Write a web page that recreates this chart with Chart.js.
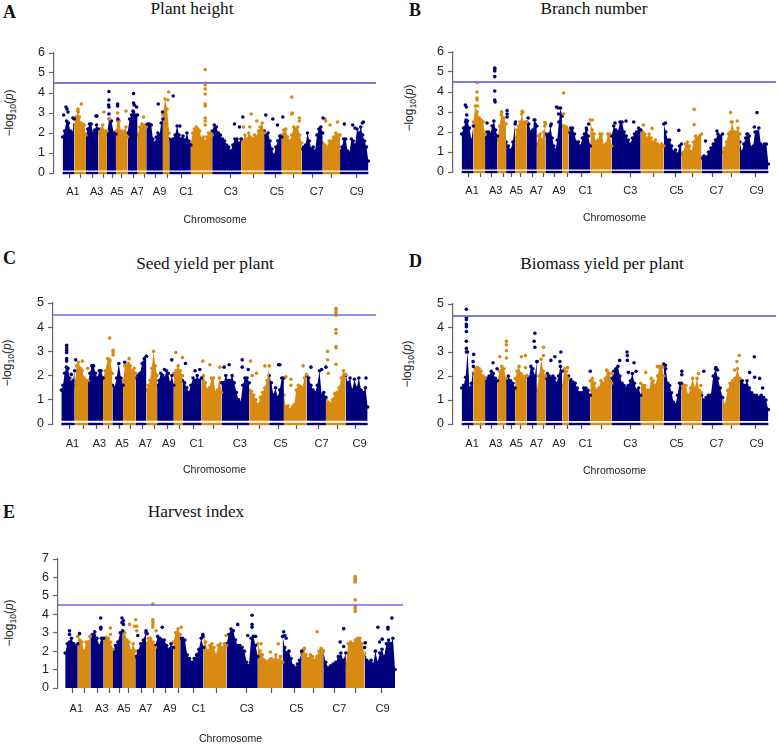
<!DOCTYPE html>
<html>
<head>
<meta charset="utf-8">
<title>Manhattan plots</title>
<script src="https://cdn.jsdelivr.net/npm/chart.js@4/dist/chart.umd.min.js"></script>
<style>
  html, body { margin: 0; padding: 0; background: #fff; }
  #page { position: relative; width: 778px; height: 744px; overflow: hidden; }
  canvas { position: absolute; }
  .txt { position: absolute; transform: translate(-50%, -50%); white-space: nowrap; color: #111; }
  .title { font: 17.3px "Liberation Serif", serif; }
  .letter { font: bold 18px "Liberation Serif", serif; transform: translate(0, -50%); }
  .ylab { font: 12px "Liberation Sans", sans-serif; color: #222; transform: translate(-50%, -50%) rotate(-90deg); }
  .ylab sub { font-size: 8.5px; line-height: 0; }
</style>
</head>
<body>
<div id="page"></div>
<script>
  'use strict';

  const navy = '#00007f';
  const orange = '#d98a10';
  const threshold = 4.5;

  // chromosome widths on the position axis, A1..A10 then C1..C9
  const chromLens = [35, 35, 37, 26, 27, 35, 30, 26, 50, 19, 65, 64, 87, 69, 53, 60, 63, 52, 85];
  const chromLensC = [40, 40, 45, 28, 32, 38, 32, 32, 50, 26, 57, 60, 83, 60, 44, 68, 58, 59, 66];
  const tickPos = [20, 55, 89, 124, 150, 177, 212, 246, 279, 316, 358, 420, 505, 574, 639, 692, 750, 808, 881];
  const tickPosC = [25, 65, 106, 142, 173, 207, 243, 278, 318, 355, 395, 455, 527, 595, 650, 705, 770, 827, 883];
  const chromLabels = ['A1', 'A3', 'A5', 'A7', 'A9', 'C1', 'C3', 'C5', 'C7', 'C9'];
  const labelPos = [31, 102, 163, 224, 291, 371, 505, 643, 763, 883];
  const labelPosC = [33, 114, 182, 252, 322, 405, 535, 657, 780, 894];

  // upper edge of the dense mass, one list per chromosome
  const heightTops = [
    [1.8, 2.1, 2.6, 2.5, 2.1, 2.0, 2.7], [2.4, 2.8, 3.1, 2.8, 2.5, 2.45, 2.4, 1.9], [1.9, 2.2, 2.45, 2.45, 2.0, 2.15, 2.4, 2.2],
    [2.0, 2.2, 2.4, 2.1, 2.1], [1.9, 2.7, 2.6, 2.0, 1.95], [2.1, 2.6, 2.6, 2.1, 2.0, 2.1, 2.3, 1.8], [2.0, 2.7, 2.9, 3.05, 2.9, 2.9],
    [1.9, 2.3, 2.45, 2.4, 2.3], [2.4, 2.45, 2.45, 2.4, 1.7, 1.5, 1.8, 2.0, 1.9, 2.5, 2.7], [2.9, 3.7, 3.2, 2.0],
    [1.7, 1.65, 1.7, 1.9, 2.35, 1.9, 1.7, 1.85, 1.65, 2.0, 1.6, 1.4], [1.5, 2.0, 2.2, 2.3, 2.2, 2.1, 1.7, 1.8, 1.6, 1.8, 2.0, 2.0, 1.9],
    [2.1, 2.4, 2.3, 2.0, 1.9, 1.7, 1.6, 1.4, 1.3, 1.1, 1.4, 1.7, 1.7, 1.5, 1.7], [1.7, 1.6, 1.9, 1.7, 2.0, 1.8, 1.7, 1.9, 1.8, 2.1, 2.3, 2.5, 2.0],
    [2.1, 1.9, 2.0, 1.6, 1.2, 0.9, 1.3, 1.6, 1.85, 1.8], [1.9, 2.15, 2.2, 1.8, 1.6, 1.9, 2.3, 2.2, 2.3, 1.9, 1.5],
    [1.2, 1.3, 1.4, 2.0, 1.6, 1.2, 1.3, 1.1, 1.9, 2.2, 2.3, 2.0], [1.5, 1.4, 1.3, 1.6, 1.6, 1.8, 2.0, 1.9, 1.9],
    [1.1, 1.3, 1.7, 1.7, 1.1, 1.0, 1.7, 1.6, 1.4, 2.2, 2.0, 2.3, 1.9, 1.6, 1.3, 0.6],
  ];
  const heightNavy = [
    [3, 2.9], [10, 3.3], [13, 3.2], [16, 3.05], [31, 2.75], [100, 2.85], [103, 2.85], [139, 4.07], [139, 3.65],
    [138, 3.4], [139, 3.3], [139, 2.95], [165, 3.45], [165, 3.35], [166, 2.7], [213, 3.97], [213, 3.5], [215, 3.4],
    [222, 3.3], [211, 3.1], [287, 3.45], [300, 3.05], [332, 3.85], [352, 2.35], [516, 2.45], [541, 2.8], [531, 2.3],
    [610, 2.9], [631, 2.7], [661, 2.8], [645, 2.4], [782, 2.75], [846, 2.45], [871, 2.4], [878, 2.25], [903, 2.55], [900, 2.5],
  ];
  const heightOrange = [
    [56, 3.45], [46, 3.2], [47, 3.05], [124, 3.05], [141, 2.7], [165, 3.0], [190, 3.1], [243, 2.8], [318, 4.05], [316, 3.65],
    [428, 5.17], [428, 4.5], [428, 4.4], [428, 4.2], [428, 3.95], [428, 3.45], [428, 3.35], [428, 2.75], [428, 2.6], [428, 2.4],
    [566, 2.95], [543, 2.3], [562, 2.3], [583, 2.6], [688, 3.8], [690, 3.0], [688, 2.95], [711, 2.75], [711, 2.6],
    [788, 2.7], [790, 2.6], [803, 2.4], [825, 2.55],
  ];

  const branchTops = [
    [1.9, 2.2, 2.5, 2.55, 2.2, 1.6, 2.3], [2.5, 3.3, 3.0, 2.7, 2.6, 2.5, 1.9], [1.7, 2.0, 2.0, 1.9, 2.3, 2.55, 2.1, 1.8],
    [1.6, 2.3, 3.0, 2.7, 2.4], [1.5, 1.3, 1.1, 1.5, 2.4], [1.7, 2.1, 2.3, 2.5, 2.9, 2.5, 2.4, 2.5], [2.5, 2.4, 2.0, 2.1, 2.6, 2.3],
    [1.4, 1.8, 1.9, 1.6, 2.0, 2.4], [1.9, 1.8, 1.9, 2.3, 1.7, 1.3, 1.1, 1.6, 2.5, 3.2, 2.8], [2.3, 2.3, 2.25, 2.1],
    [2.0, 2.2, 2.2, 1.9, 1.5, 1.5, 1.3, 1.7, 1.9, 2.2, 1.8, 1.3], [2.6, 2.1, 1.9, 1.5, 1.6, 1.9, 1.9, 1.3, 1.4, 1.9, 1.9, 1.3],
    [1.8, 2.3, 2.1, 2.0, 2.5, 2.5, 2.0, 1.8, 1.6, 1.4, 1.7, 1.9, 2.0, 2.2, 2.1], [2.1, 2.0, 1.9, 1.7, 1.9, 1.7, 1.5, 1.6, 1.4, 1.3, 1.4, 1.3],
    [2.4, 2.0, 1.6, 1.6, 1.3, 1.0, 1.1, 0.9, 1.3, 1.4], [0.9, 1.0, 1.4, 1.5, 1.3, 1.0, 1.5, 1.8, 1.7, 1.8, 1.9],
    [0.7, 0.8, 0.75, 1.0, 1.2, 1.4, 1.6, 1.9, 1.8, 1.9], [1.0, 1.2, 1.5, 1.9, 2.0, 2.5, 2.0, 2.0, 2.2, 1.9],
    [1.5, 1.0, 1.4, 1.7, 1.9, 1.8, 1.2, 1.3, 2.0, 2.0, 2.2, 1.4, 1.3, 1.4, 1.4, 0.4],
  ];
  const branchNavy = [
    [11, 3.35], [14, 3.25], [15, 2.85], [13, 2.6], [99, 5.2], [99, 5.15], [99, 5.05], [99, 4.77], [99, 4.05], [99, 3.6], [100, 3.5],
    [76, 2.45], [136, 3.07], [136, 2.9], [136, 2.75], [161, 2.5], [199, 2.7], [217, 2.6], [220, 2.4], [268, 2.4], [284, 3.25],
    [289, 3.2], [290, 2.9], [380, 2.4], [374, 2.1], [459, 2.45], [492, 2.55], [515, 2.5], [610, 2.45], [650, 2.08],
    [730, 1.55], [764, 2.05], [884, 2.97], [876, 2.25], [854, 1.9],
  ];
  const branchOrange = [
    [46, 4.47], [46, 4.0], [46, 3.7], [46, 3.6], [48, 3.3], [119, 3.0], [118, 2.85], [181, 3.03], [183, 3.0], [188, 2.45],
    [249, 2.47], [249, 2.3], [305, 3.95], [305, 2.9], [391, 2.6], [544, 2.35], [570, 2.18], [696, 3.13], [696, 2.37],
    [805, 2.97], [807, 2.5], [825, 2.55],
  ];

  const seedTops = [
    [1.4, 1.6, 2.1, 2.35, 2.3, 1.9, 1.7, 1.8, 2.2], [1.6, 2.4, 2.55, 2.3, 2.2, 1.9, 1.8, 1.8], [1.7, 2.1, 2.4, 2.4, 2.1, 1.9, 2.2, 2.2, 1.9],
    [1.9, 2.2, 2.7, 2.6, 2.1], [1.6, 1.5, 1.9, 2.5, 1.9, 1.6], [1.8, 2.4, 2.4, 2.5, 2.4, 2.2, 2.3, 2.1], [1.9, 2.0, 2.1, 2.5, 2.7, 2.8],
    [1.4, 1.6, 1.8, 2.3, 3.0, 2.4, 2.0], [1.6, 1.8, 2.1, 2.0, 1.9, 2.2, 2.1, 1.7, 2.0, 1.6], [2.1, 2.2, 2.4, 2.2, 2.0],
    [1.8, 1.7, 1.5, 1.3, 1.6, 1.9, 1.8, 2.0, 1.8, 1.9], [1.9, 2.0, 1.7, 1.4, 1.5, 1.9, 1.9, 1.3, 1.4, 1.9, 1.3],
    [1.7, 1.7, 2.0, 1.8, 1.8, 2.0, 1.7, 1.3, 1.0, 0.9, 1.6, 1.9, 1.9, 1.7], [1.4, 1.35, 1.2, 1.0, 0.8, 1.1, 1.3, 1.5, 1.8, 2.4],
    [2.0, 1.7, 1.2, 1.5, 1.1, 1.4, 1.9, 1.9], [1.2, 0.7, 0.75, 0.6, 0.7, 0.8, 1.4, 1.6, 1.55, 1.5, 1.9, 2.05],
    [2.0, 1.9, 1.6, 1.4, 1.3, 1.6, 2.2, 1.2, 1.3, 1.1], [1.0, 0.9, 0.85, 1.0, 1.25, 1.3, 1.5, 1.9, 2.2, 2.05],
    [2.0, 1.7, 1.9, 1.4, 1.85, 1.5, 1.9, 1.4, 1.3, 1.5, 0.7],
  ];
  const seedNavy = [
    [16, 3.25], [16, 3.15], [16, 3.05], [16, 2.95], [16, 2.7], [16, 2.6], [43, 2.65], [30, 2.05], [95, 2.4], [190, 2.55],
    [255, 2.8], [247, 2.55], [331, 2.65], [309, 2.25], [372, 2.5], [401, 2.2], [415, 2.25], [488, 2.35], [503, 2.45],
    [542, 2.65], [542, 2.35], [560, 2.25], [651, 2.45], [655, 2.45], [748, 2.35], [780, 2.25], [793, 2.35], [913, 1.9],
  ];
  const seedOrange = [
    [63, 2.6], [79, 2.3], [145, 3.55], [155, 3.05], [155, 2.95], [155, 2.85], [145, 2.65], [203, 2.7], [343, 2.95], [363, 2.75],
    [424, 2.6], [445, 2.45], [475, 2.35], [567, 2.6], [572, 2.0], [585, 2.1], [610, 2.4], [673, 1.95], [688, 1.85], [688, 1.6], [725, 2.4],
    [823, 4.78], [823, 4.7], [823, 4.6], [823, 4.5], [823, 3.9], [823, 3.75], [823, 3.2], [823, 3.15], [823, 2.47],
    [798, 3.0], [798, 2.65], [800, 2.1],
  ];

  const biomassTops = [
    [1.5, 1.6, 1.95, 3.0, 1.5, 1.7, 2.4], [2.1, 2.3, 2.35, 2.3, 2.2, 2.0, 1.9], [1.9, 1.9, 2.0, 2.2, 2.1, 1.9, 1.8],
    [1.8, 2.2, 2.4, 2.3, 1.9], [1.8, 2.0, 1.8, 1.7, 1.5], [1.9, 2.2, 2.4, 2.1, 2.0, 1.9, 2.0], [2.0, 1.9, 2.4, 2.3, 2.0, 2.6],
    [1.4, 2.0, 2.7, 2.2, 2.0], [1.9, 2.1, 2.0, 1.9, 2.0, 1.9, 1.7, 2.0, 2.4, 2.2], [1.6, 2.3, 2.2, 1.9],
    [2.0, 1.85, 1.75, 1.7, 1.5, 1.3, 1.3, 1.5, 1.5, 1.4, 1.2], [1.8, 1.9, 1.7, 1.4, 1.5, 1.8, 1.7, 1.9, 2.2, 2.1, 1.7],
    [1.9, 2.2, 2.3, 2.4, 2.0, 1.7, 1.6, 1.5, 1.6, 1.8, 2.1, 1.7, 1.4, 1.5, 1.2], [1.7, 1.6, 1.6, 1.4, 1.4, 1.9, 1.8, 1.6, 2.0, 2.4, 2.4, 2.0],
    [2.5, 2.3, 1.7, 1.6, 1.3, 0.9, 0.8, 1.2, 1.7, 1.7], [1.5, 1.6, 1.6, 1.2, 1.5, 1.9, 1.5, 1.9, 1.4, 1.3],
    [1.2, 1.0, 1.1, 1.2, 1.2, 2.0, 2.3, 1.9, 1.5, 1.1], [1.1, 0.8, 1.4, 1.7, 1.8, 1.9, 2.3, 1.9],
    [1.8, 1.8, 1.6, 1.8, 1.5, 1.3, 1.2, 1.2, 1.1, 1.2, 1.1, 1.0, 0.6],
  ];
  const biomassNavy = [
    [14, 4.78], [14, 4.45], [14, 4.35], [14, 4.15], [14, 4.05], [14, 3.85], [14, 3.45], [14, 3.15], [14, 3.0], [36, 2.9], [34, 2.6],
    [94, 2.55], [106, 2.3], [219, 3.78], [217, 3.45], [219, 3.2], [226, 2.6], [267, 2.65], [279, 2.8], [297, 3.0], [294, 2.6],
    [385, 2.2], [495, 3.0], [496, 2.85], [496, 2.65], [473, 2.65], [516, 2.55], [499, 2.15], [522, 2.2], [659, 2.2], [659, 2.05],
    [610, 2.45], [725, 2.2], [761, 2.35], [766, 2.25], [876, 2.8], [862, 2.15], [877, 1.95], [892, 1.9], [901, 1.5],
  ];
  const biomassOrange = [
    [134, 3.45], [134, 3.3], [134, 3.05], [114, 2.8], [134, 2.75], [179, 2.8], [191, 2.85], [191, 2.35], [245, 3.2], [245, 2.85],
    [317, 2.35], [434, 2.25], [452, 2.1], [551, 2.15], [586, 2.4], [602, 2.35], [594, 2.3], [709, 2.1], [716, 1.6],
    [831, 2.85], [824, 2.6], [817, 2.25],
  ];

  const harvestTops = [
    [1.9, 2.4, 2.5, 2.7, 2.4, 2.3, 2.4], [2.8, 2.6, 2.5, 2.0, 2.5, 2.5, 2.8], [2.8, 2.9, 3.05, 2.7, 2.3, 2.7, 2.7],
    [2.7, 2.75, 2.7, 2.5, 2.1], [2.0, 2.3, 2.5, 3.0, 3.1], [3.0, 3.0, 2.6, 2.5, 2.0, 2.4, 2.0], [1.7, 2.0, 2.4, 2.6, 3.0],
    [2.4, 2.7, 2.7, 2.5, 2.2], [2.3, 2.8, 2.7, 2.6, 2.6, 2.3, 2.1, 2.4, 2.2], [2.5, 3.0, 3.2, 2.9],
    [2.7, 2.7, 2.6, 1.8, 1.6, 1.4, 1.6, 1.8, 2.1, 2.7, 2.2], [2.8, 2.5, 2.0, 2.3, 2.4, 2.2, 1.8, 2.3, 2.4, 2.2, 2.4, 2.3],
    [2.4, 2.9, 3.2, 3.1, 2.6, 2.3, 2.3, 2.2, 2.0, 1.4, 1.2, 2.7, 2.8, 2.3, 1.7], [2.4, 2.0, 1.8, 1.5, 1.4, 1.5, 1.6, 1.5, 1.8, 1.5, 1.7, 1.4],
    [2.8, 2.2, 1.9, 2.0, 1.6, 1.2, 1.1, 1.3, 1.5, 2.0], [1.9, 2.1, 1.8, 1.6, 1.8, 1.7, 1.5, 1.7, 2.0, 2.15, 2.0],
    [2.0, 1.4, 1.1, 1.2, 1.3, 1.4, 1.7, 1.9, 1.5, 1.9], [1.3, 2.4, 2.5, 2.4, 2.6, 2.7, 2.7, 2.4, 1.8],
    [2.2, 1.5, 1.4, 1.5, 1.3, 2.0, 1.4, 1.9, 2.1, 1.7, 2.4, 2.6, 2.4, 2.7, 1.0],
  ];
  const harvestNavy = [
    [12, 3.1], [12, 2.9], [40, 2.95], [99, 3.8], [99, 3.3], [99, 3.2], [158, 3.8], [162, 3.65], [158, 3.55], [162, 3.45],
    [225, 3.1], [228, 2.95], [202, 2.85], [270, 3.3], [383, 2.9], [383, 2.8], [480, 3.45], [520, 3.95], [520, 3.45], [520, 3.3],
    [508, 2.85], [530, 2.8], [608, 3.05], [611, 2.85], [615, 2.7], [775, 3.22], [765, 2.5], [775, 2.25], [835, 2.45],
    [870, 3.3], [875, 2.5], [882, 2.65], [898, 3.3], [898, 3.2], [909, 3.8],
  ];
  const harvestOrange = [
    [126, 3.25], [126, 2.9], [179, 3.45], [193, 3.35], [196, 3.7], [199, 3.35], [199, 3.1], [244, 4.55], [244, 3.7], [244, 3.6],
    [244, 3.45], [244, 3.3], [253, 3.1], [323, 3.3], [448, 2.85], [545, 2.4], [571, 1.95], [593, 2.4], [599, 1.7], [701, 3.05], [666, 2.15],
    [807, 6.05], [807, 5.95], [807, 5.85], [807, 5.75], [807, 4.78], [807, 4.4], [807, 4.3], [807, 4.15],
  ];

  const panels = [
    { letter: 'A', letterX: 3, letterY: 12, name: 'Plant height', nameX: 192, nameY: 9, ylabX: 9, ylabY: 113,
      axisX: 54, right: 376, top: 53, zero: 173, labelsY: 190, titleY: 219, yMax: 6, base: 0.12, min: -26, max: 941,
      lens: chromLens, ticks: tickPos, labels: labelPos, tops: heightTops, hiNavy: heightNavy, hiOrange: heightOrange, lineColor: '#7b7bdc', lineW: 2 },
    { letter: 'B', letterX: 409, letterY: 10, name: 'Branch number', nameX: 594, nameY: 9, ylabX: 409, ylabY: 108,
      axisX: 453, right: 776, top: 52, zero: 172, labelsY: 189, titleY: 217, yMax: 6, base: 0.12, min: -26, max: 941,
      lens: chromLens, ticks: tickPos, labels: labelPos, tops: branchTops, hiNavy: branchNavy, hiOrange: branchOrange, lineColor: '#7b7bdc', lineW: 2 },
    { letter: 'C', letterX: 3, letterY: 258, name: 'Seed yield per plant', nameX: 205, nameY: 264, ylabX: 7, ylabY: 363,
      axisX: 53, right: 376, top: 303, zero: 424, labelsY: 442, titleY: 469, yMax: 5, base: 0.13, min: -25, max: 943,
      lens: chromLensC, ticks: tickPosC, labels: labelPosC, tops: seedTops, hiNavy: seedNavy, hiOrange: seedOrange, lineColor: '#6a6ae8', lineW: 1.5 },
    { letter: 'D', letterX: 409, letterY: 261, name: 'Biomass yield per plant', nameX: 602, nameY: 264, ylabX: 407, ylabY: 364,
      axisX: 453, right: 776, top: 304, zero: 424, labelsY: 442, titleY: 470, yMax: 5, base: 0.12, min: -26, max: 941,
      lens: chromLens, ticks: tickPos, labels: labelPos, tops: biomassTops, hiNavy: biomassNavy, hiOrange: biomassOrange, lineColor: '#7b7bdc', lineW: 2 },
    { letter: 'E', letterX: 3, letterY: 512, name: 'Harvest index', nameX: 196, nameY: 512, ylabX: 9, ylabY: 623,
      axisX: 58, right: 403, top: 559, zero: 688, labelsY: 707, titleY: 738, yMax: 7, base: 0, min: -20, max: 940,
      lens: chromLens, ticks: tickPos, labels: labelPos, tops: harvestTops, hiNavy: harvestNavy, hiOrange: harvestOrange, lineColor: '#6a6ae8', lineW: 1.5 },
  ];

  const page = document.getElementById('page');

  function addText(cls, x, y, html) {
    const el = document.createElement('div');
    el.className = 'txt ' + cls;
    el.style.left = x + 'px';
    el.style.top = y + 'px';
    el.innerHTML = html;
    page.appendChild(el);
  }

  // the layout would otherwise shrink the plot to fit half a label
  function noPadding(s) {
    s.paddingLeft = s.paddingRight = s.paddingTop = s.paddingBottom = 0;
  }

  function drawPanel(p) {
    addText('letter', p.letterX, p.letterY, p.letter);
    addText('title', p.nameX, p.nameY, p.name);
    addText('ylab', p.ylabX, p.ylabY, '\u2212log<sub>10</sub>(<i>p</i>)');

    const pad = 10;
    const yWidth = 50;
    const canvas = document.createElement('canvas');
    canvas.width = p.right - p.axisX + yWidth;
    canvas.height = p.titleY + 7 - p.top + pad;
    canvas.style.left = (p.axisX - yWidth) + 'px';
    canvas.style.top = (p.top - pad) + 'px';
    page.appendChild(canvas);

    const datasets = [];
    // threshold first so it sits on top of the points
    datasets.push({
      data: [{ x: p.min, y: threshold }, { x: p.max, y: threshold }],
      showLine: true, pointRadius: 0, borderColor: p.lineColor, borderWidth: p.lineW,
    });
    datasets.push({ data: p.hiNavy.map(d => ({ x: d[0], y: d[1] })), pointRadius: 1.8, backgroundColor: navy, borderWidth: 0 });
    datasets.push({ data: p.hiOrange.map(d => ({ x: d[0], y: d[1] })), pointRadius: 1.8, backgroundColor: orange, borderWidth: 0 });

    let start = 0;
    p.tops.forEach((tops, c) => {
      const len = p.lens[c];
      const color = c % 2 ? orange : navy;
      datasets.push({
        data: tops.map((v, i) => ({ x: start + len * i / (tops.length - 1), y: v })),
        showLine: true, tension: 0, borderWidth: 0, borderColor: color,
        pointRadius: 1.8, backgroundColor: color,
        fill: { value: p.base, above: color, below: color },
      });
      if (p.base > 0) {
        datasets.push({
          data: [{ x: start, y: 0 }, { x: start + len, y: 0 }],
          showLine: true, pointRadius: 0, borderColor: color, borderWidth: 2.4,
        });
      }
      start += len;
    });

    new Chart(canvas, {
      type: 'scatter',
      data: { datasets },
      options: {
        responsive: false,
        animation: false,
        devicePixelRatio: 1,
        clip: false,
        layout: { autoPadding: false, padding: { top: pad, left: 0, right: 0, bottom: 0 } },
        plugins: { legend: { display: false }, tooltip: { enabled: false } },
        scales: {
          x: {
            type: 'linear', min: p.min, max: p.max, weight: 0,
            border: { display: false },
            grid: { drawOnChartArea: false, drawTicks: true, tickLength: 5, tickColor: '#555', tickWidth: 1.2 },
            ticks: { autoSkip: false, maxRotation: 0, padding: 0, callback: () => '', font: { size: 1 } },
            afterBuildTicks: s => { s.ticks = p.ticks.map(v => ({ value: v })); },
            afterFit: s => { s.height = 6; noPadding(s); },
          },
          xl: {
            type: 'linear', axis: 'x', position: 'bottom', min: p.min, max: p.max, weight: 1,
            border: { display: false },
            grid: { display: false, drawTicks: false },
            ticks: {
              autoSkip: false, maxRotation: 0, padding: p.labelsY - p.zero - 11,
              color: '#222', font: { family: '"Liberation Sans"', size: 11 },
              callback: (v, i) => chromLabels[i],
            },
            afterBuildTicks: s => { s.ticks = p.labels.map(v => ({ value: v })); },
            afterFit: s => { s.height = p.titleY + 7 - p.zero - 6; noPadding(s); },
            title: {
              display: true, text: 'Chromosome', color: '#222', padding: 0,
              font: { family: '"Liberation Sans"', size: 10.5 },
            },
          },
          y: {
            min: 0, max: p.yMax,
            border: { display: true, color: '#666', width: 1.2 },
            grid: { drawOnChartArea: false, drawTicks: true, tickLength: 5, tickColor: '#666', tickWidth: 1.2 },
            ticks: { stepSize: 1, padding: 4, color: '#222', font: { family: '"Liberation Sans"', size: 12.5 } },
            afterFit: s => { s.width = yWidth; noPadding(s); },
          },
        },
      },
    });
  }

  panels.forEach(drawPanel);
</script>
</body>
</html>
